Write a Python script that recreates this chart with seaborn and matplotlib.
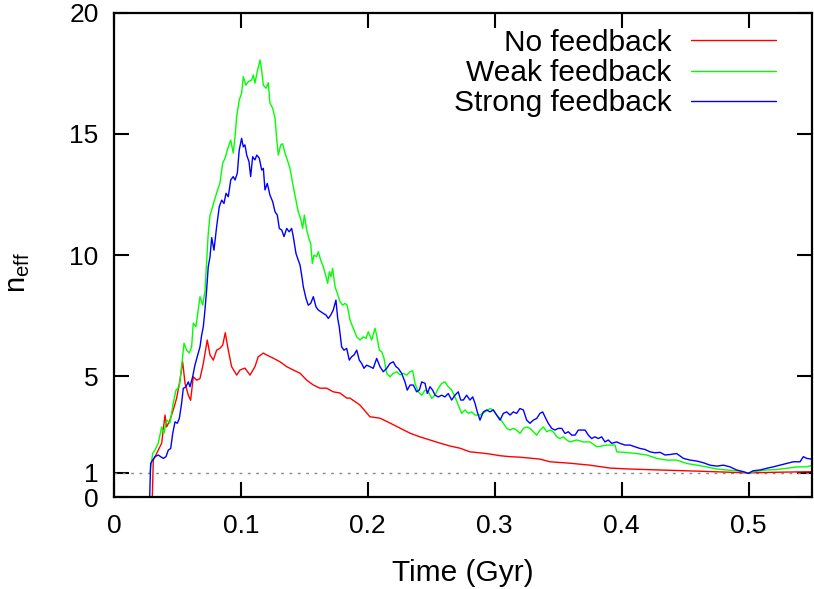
import matplotlib
matplotlib.use("Agg")
import matplotlib.pyplot as plt
import seaborn as sns
import pandas as pd

# values (time in Gyr, n_eff)
no_fb_t = [0.0280, 0.0297, 0.0310, 0.0349, 0.0376, 0.0402, 0.0415, 0.0441, 0.0467, 0.0494,
           0.0520, 0.0541, 0.0560, 0.0586, 0.0604, 0.0625, 0.0652, 0.0678, 0.0704, 0.0735,
           0.0757, 0.0783, 0.0809, 0.0835, 0.0857, 0.0877, 0.0901, 0.0927, 0.0967, 0.0993,
           0.1032, 0.1072, 0.1111, 0.1137, 0.1177, 0.1203, 0.1255, 0.1308, 0.1361, 0.1413,
           0.1466, 0.1519, 0.1571, 0.1623, 0.1676, 0.1728, 0.1781, 0.1834, 0.1860, 0.1939,
           0.2017, 0.2096, 0.2175, 0.2254, 0.2333, 0.2411, 0.2490, 0.2569, 0.2648, 0.2727,
           0.2805, 0.2884, 0.2963, 0.3042, 0.3121, 0.3199, 0.3278, 0.3357, 0.3436, 0.3593,
           0.3751, 0.3909, 0.4066, 0.4303, 0.4618, 0.4996, 0.5248, 0.5500]
no_fb_n = [-1.0, -1.0, 1.53, 1.94, 2.23, 3.39, 2.9, 3.18, 3.6, 4.09,
           4.83, 5.59, 4.7, 4.21, 4.0, 4.97, 4.83, 4.9, 5.52, 6.49,
           5.87, 5.66, 6.07, 6.15, 6.28, 6.79, 6.07, 5.39, 5.04, 5.25,
           5.33, 5.04, 5.39, 5.8, 5.95, 5.87, 5.74, 5.59, 5.39, 5.25,
           5.12, 4.83, 4.63, 4.5, 4.5, 4.35, 4.3, 4.09, 4.09, 3.8,
           3.32, 3.26, 3.06, 2.85, 2.64, 2.49, 2.36, 2.23, 2.11, 2.02,
           1.87, 1.83, 1.78, 1.71, 1.67, 1.65, 1.61, 1.57, 1.46, 1.40,
           1.32, 1.2, 1.16, 1.12, 1.07, 1.0, 1.03, 1.05]

weak_t = [0.0284, 0.0305, 0.0323, 0.0349, 0.0376, 0.0394, 0.0415, 0.0441, 0.0467, 0.0489,
          0.0515, 0.0533, 0.0552, 0.0573, 0.0593, 0.0612, 0.0625, 0.0646, 0.0664, 0.0678,
          0.0699, 0.0717, 0.0730, 0.0743, 0.0757, 0.0770, 0.0788, 0.0809, 0.0835, 0.0857,
          0.0875, 0.0901, 0.0920, 0.0940, 0.0954, 0.0967, 0.0987, 0.1006, 0.1019, 0.1040,
          0.1058, 0.1085, 0.1098, 0.1111, 0.1129, 0.1151, 0.1164, 0.1177, 0.1198, 0.1216,
          0.1229, 0.1251, 0.1269, 0.1282, 0.1295, 0.1314, 0.1329, 0.1348, 0.1366, 0.1387,
          0.1413, 0.1434, 0.1452, 0.1471, 0.1487, 0.1500, 0.1519, 0.1539, 0.1550, 0.1563,
          0.1576, 0.1597, 0.1610, 0.1629, 0.1649, 0.1668, 0.1684, 0.1697, 0.1710, 0.1723,
          0.1742, 0.1760, 0.1781, 0.1802, 0.1820, 0.1838, 0.1860, 0.1886, 0.1913, 0.1939,
          0.1965, 0.1986, 0.2004, 0.2031, 0.2057, 0.2070, 0.2091, 0.2110, 0.2128, 0.2149,
          0.2175, 0.2201, 0.2228, 0.2254, 0.2280, 0.2307, 0.2333, 0.2354, 0.2372, 0.2398,
          0.2425, 0.2451, 0.2477, 0.2504, 0.2530, 0.2556, 0.2582, 0.2608, 0.2634, 0.2661,
          0.2687, 0.2713, 0.2740, 0.2766, 0.2792, 0.2819, 0.2845, 0.2884, 0.2924, 0.2963,
          0.2989, 0.3016, 0.3042, 0.3068, 0.3095, 0.3121, 0.3147, 0.3173, 0.3199, 0.3226,
          0.3252, 0.3278, 0.3304, 0.3331, 0.3357, 0.3383, 0.3410, 0.3436, 0.3462, 0.3489,
          0.3515, 0.3541, 0.3567, 0.3593, 0.3646, 0.3699, 0.3751, 0.3804, 0.3830, 0.3883,
          0.3948, 0.3962, 0.4040, 0.4119, 0.4198, 0.4277, 0.4355, 0.4434, 0.4513, 0.4592,
          0.4671, 0.4749, 0.4828, 0.4907, 0.4998, 0.5065, 0.5143, 0.5222, 0.5301, 0.5380,
          0.5459, 0.5498]
weak_n = [1.0, 1.8, 1.94, 2.23, 2.9, 2.64, 3.18, 3.06, 3.88, 4.42,
          4.56, 5.39, 6.36, 6.07, 5.95, 6.21, 7.19, 7.04, 7.73, 8.28,
          7.93, 8.5, 9.67, 10.9, 11.65, 11.86, 12.2, 12.56, 12.97, 13.8,
          14.0, 14.47, 14.75, 14.21, 14.89, 15.72, 16.4, 16.69, 17.37, 17.02,
          17.16, 17.23, 17.44, 17.1, 17.58, 18.06, 17.64, 17.02, 16.89, 17.12,
          16.28, 16.06, 15.65, 14.82, 14.13, 14.55, 14.6, 14.2, 13.93, 13.58,
          12.82, 12.27, 11.79, 11.5, 11.1, 11.65, 11.03, 10.62, 10.48, 9.65,
          10.0, 9.93, 10.14, 9.79, 9.52, 9.17, 8.83, 9.31, 9.1, 9.45,
          8.69, 8.42, 8.07, 7.93, 8.0, 7.93, 7.31, 6.97, 6.62, 6.49,
          6.62, 6.56, 6.83, 6.49, 6.97, 6.69, 6.07, 6.0, 5.73, 5.11,
          4.97, 5.11, 5.18, 5.05, 5.11, 5.04, 5.18, 5.22, 4.7, 4.35,
          4.21, 4.42, 4.35, 4.08, 4.21, 4.49, 4.7, 4.76, 4.56, 4.42,
          4.14, 3.8, 3.46, 3.6, 3.46, 3.52, 3.39, 3.39, 3.52, 3.66,
          3.6, 3.39, 3.25, 3.05, 2.84, 2.77, 2.84, 2.77, 2.63, 2.84,
          2.9, 2.84, 2.7, 2.56, 2.77, 2.9, 2.7, 2.77, 2.7, 2.49,
          2.42, 2.49, 2.36, 2.28, 2.36, 2.28, 2.28, 2.08, 2.1, 2.15,
          2.15, 1.87, 1.84, 1.8, 1.74, 1.6, 1.53, 1.53, 1.39, 1.32,
          1.25, 1.16, 1.12, 1.09, 1.0, 1.07, 1.12, 1.14, 1.19, 1.25,
          1.25, 1.31]

strong_t = [0.0276, 0.0289, 0.0305, 0.0323, 0.0349, 0.0368, 0.0389, 0.0410, 0.0428, 0.0447,
            0.0463, 0.0481, 0.0499, 0.0515, 0.0533, 0.0546, 0.0567, 0.0586, 0.0599, 0.0620,
            0.0638, 0.0656, 0.0678, 0.0691, 0.0704, 0.0717, 0.0730, 0.0743, 0.0757, 0.0770,
            0.0788, 0.0809, 0.0830, 0.0849, 0.0867, 0.0883, 0.0901, 0.0920, 0.0940, 0.0954,
            0.0972, 0.0987, 0.1006, 0.1019, 0.1032, 0.1046, 0.1064, 0.1077, 0.1093, 0.1111,
            0.1125, 0.1145, 0.1164, 0.1177, 0.1190, 0.1208, 0.1229, 0.1251, 0.1269, 0.1287,
            0.1303, 0.1322, 0.1340, 0.1361, 0.1381, 0.1400, 0.1413, 0.1434, 0.1452, 0.1466,
            0.1479, 0.1492, 0.1513, 0.1531, 0.1550, 0.1571, 0.1592, 0.1610, 0.1629, 0.1649,
            0.1671, 0.1689, 0.1708, 0.1728, 0.1749, 0.1763, 0.1775, 0.1794, 0.1812, 0.1834,
            0.1854, 0.1873, 0.1891, 0.1913, 0.1933, 0.1952, 0.1970, 0.1991, 0.2017, 0.2043,
            0.2070, 0.2096, 0.2122, 0.2149, 0.2175, 0.2201, 0.2222, 0.2240, 0.2267, 0.2293,
            0.2311, 0.2333, 0.2359, 0.2385, 0.2406, 0.2425, 0.2451, 0.2469, 0.2490, 0.2511,
            0.2530, 0.2556, 0.2582, 0.2608, 0.2634, 0.2661, 0.2687, 0.2713, 0.2732, 0.2753,
            0.2779, 0.2805, 0.2827, 0.2845, 0.2863, 0.2884, 0.2910, 0.2937, 0.2963, 0.2989,
            0.3016, 0.3042, 0.3068, 0.3095, 0.3121, 0.3147, 0.3173, 0.3199, 0.3226, 0.3252,
            0.3278, 0.3304, 0.3331, 0.3357, 0.3378, 0.3396, 0.3422, 0.3449, 0.3475, 0.3501,
            0.3528, 0.3554, 0.3580, 0.3607, 0.3633, 0.3659, 0.3686, 0.3712, 0.3738, 0.3764,
            0.3790, 0.3816, 0.3843, 0.3869, 0.3895, 0.3922, 0.3961, 0.3987, 0.4027, 0.4066,
            0.4106, 0.4145, 0.4184, 0.4224, 0.4263, 0.4303, 0.4342, 0.4381, 0.4434, 0.4487,
            0.4539, 0.4592, 0.4644, 0.4697, 0.4749, 0.4802, 0.4854, 0.4907, 0.4960, 0.4998,
            0.5037, 0.5090, 0.5143, 0.5195, 0.5248, 0.5301, 0.5353, 0.5406, 0.5432, 0.5459,
            0.5498]
strong_n = [-1.0, 1.39, 1.53, 1.67, 1.74, 1.67, 1.6, 1.67, 1.94, 2.01,
            2.63, 3.11, 3.05, 3.25, 3.87, 4.49, 4.56, 4.76, 4.56, 4.97,
            5.45, 5.8, 6.21, 6.69, 7.04, 7.73, 8.55, 9.52, 9.93, 10.72,
            10.2, 11.17, 12.0, 12.27, 12.13, 12.55, 12.41, 13.1, 13.24, 13.1,
            13.38, 14.34, 14.82, 14.47, 14.55, 14.13, 13.86, 13.24, 14.06, 13.93,
            14.13, 14.0, 13.51, 13.58, 12.69, 12.96, 12.48, 12.2, 11.79, 11.65,
            11.1, 11.03, 10.76, 11.1, 10.96, 11.1, 10.76, 10.07, 9.79, 9.59,
            9.17, 8.69, 8.21, 7.93, 8.0, 8.28, 7.86, 7.73, 7.66, 7.59,
            7.52, 7.38, 7.52, 7.73, 8.14, 7.38, 7.04, 6.21, 6.07, 6.14,
            5.66, 5.8, 5.87, 6.07, 5.66, 5.52, 5.32, 5.45, 5.39, 5.32,
            5.73, 5.39, 5.18, 5.32, 5.52, 5.59, 5.39, 5.32, 5.11, 4.76,
            4.42, 4.63, 4.63, 4.35, 4.42, 4.76, 4.7, 4.28, 4.56, 4.42,
            4.21, 4.14, 4.21, 4.14, 4.28, 4.01, 4.21, 4.35, 4.01, 4.01,
            4.21, 4.01, 4.14, 3.87, 3.52, 3.18, 3.52, 3.6, 3.52, 3.6,
            3.39, 3.18, 3.46, 3.52, 3.39, 3.52, 3.46, 3.66, 3.6, 3.18,
            3.05, 3.18, 3.25, 3.46, 3.52, 3.32, 3.05, 2.84, 2.77, 2.84,
            2.84, 2.63, 2.7, 2.56, 2.56, 2.77, 2.77, 2.77, 2.56, 2.42,
            2.49, 2.42, 2.49, 2.28, 2.36, 2.22, 2.28, 2.22, 2.15, 2.15,
            2.08, 2.01, 1.97, 1.87, 1.83, 1.85, 1.74, 1.76, 1.8, 1.6,
            1.53, 1.49, 1.42, 1.32, 1.28, 1.32, 1.25, 1.12, 1.05, 0.98,
            1.09, 1.12, 1.19, 1.25, 1.32, 1.39, 1.46, 1.46, 1.67, 1.6,
            1.57]

series_names = ["No feedback", "Weak feedback", "Strong feedback"]
series_colors = ["#ff0000", "#00ff00", "#0000ff"]

x_ticks = [0, 0.1, 0.2, 0.3, 0.4, 0.5]
y_ticks = [0, 1, 5, 10, 15, 20]

sns.set_style("ticks")
plt.rcParams["font.family"] = ["Liberation Sans", "DejaVu Sans"]
plt.rcParams["mathtext.default"] = "regular"
plt.rcParams["text.color"] = "black"
plt.rcParams["axes.labelcolor"] = "black"

fig = plt.figure(figsize=(8.14, 5.89), dpi=100)
ax = fig.add_axes([0.140, 0.156, 0.8575, 0.822])

ax.axhline(1, color="#888888", lw=1.0, ls=(0, (2, 4)), zorder=1)

frames = []
for name, t, n in zip(series_names, [no_fb_t, weak_t, strong_t], [no_fb_n, weak_n, strong_n]):
    frames.append(pd.DataFrame({"time": t, "neff": n, "run": name}))
df = pd.concat(frames, ignore_index=True)

sns.lineplot(data=df, x="time", y="neff", hue="run", hue_order=series_names,
             palette=series_colors, estimator=None, sort=False, lw=1.0, ax=ax)

ax.set_xlim(0, 0.55)
ax.set_ylim(0, 20)
ax.set_xticks(x_ticks)
ax.set_xticklabels([f"{v:g}" for v in x_ticks])
ax.set_yticks(y_ticks)
ax.set_yticklabels([str(v) for v in y_ticks])
ax.tick_params(direction="in", length=10.5, width=1.5, top=True, right=True,
               labelsize=19, colors="black")
ax.tick_params(axis="x", pad=12)
ax.tick_params(axis="y", pad=11)
for side in ax.spines.values():
    side.set_linewidth(1.6)
    side.set_color("black")

ax.set_xlabel("Time (Gyr)", fontsize=21.5)
ax.set_ylabel("n$_{eff}$", fontsize=21)
ax.xaxis.set_label_coords(0.5, -0.128)
ax.yaxis.set_label_coords(-0.118, 0.465)

ax.legend(loc="upper right", bbox_to_anchor=(0.948, 0.967), frameon=False,
          markerfirst=False, fontsize=21.5, handlelength=2.85, handletextpad=0.64,
          labelspacing=0.07, borderaxespad=0, borderpad=0)

fig.savefig("out.png", dpi=100)
